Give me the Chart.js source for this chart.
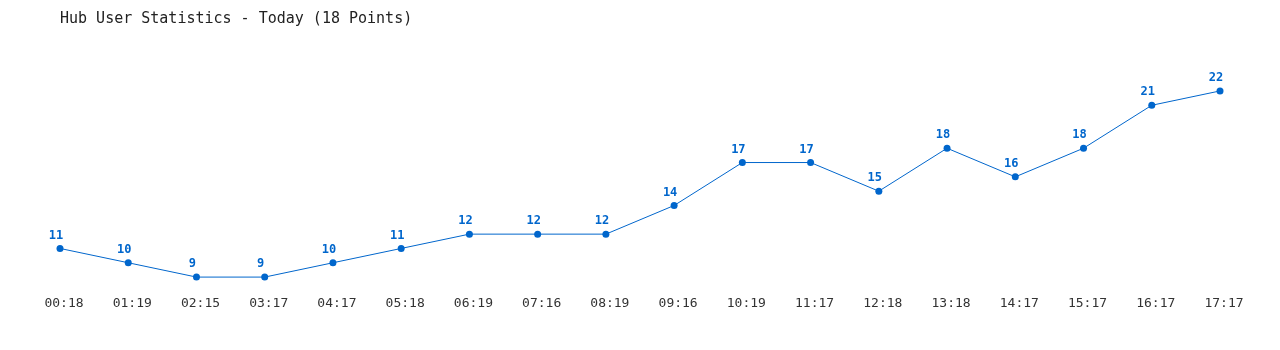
<!DOCTYPE html>
<html>
<head>
<meta charset="utf-8">
<script src="https://cdn.jsdelivr.net/npm/chart.js@4"></script>
<style>
html,body{margin:0;padding:0;background:#fff;}
#wrap{width:1280px;height:350px;position:relative;}
</style>
</head>
<body>
<div id="wrap"><canvas id="c" width="1280" height="350"></canvas></div>
<script>
const titleText = "Hub User Statistics - Today (18 Points)";
const times = ["00:18","01:19","02:15","03:17","04:17","05:18","06:19","07:16","08:19","09:16","10:19","11:17","12:18","13:18","14:17","15:17","16:17","17:17"];
const users = [11,10,9,9,10,11,12,12,12,14,17,17,15,18,16,18,21,22];
const yMin = 8;
const yMax = 25;

const pointLabels = {
  id: 'pointLabels',
  afterDatasetsDraw(chart) {
    const ctx = chart.ctx;
    const meta = chart.getDatasetMeta(0);
    const data = chart.data.datasets[0].data;
    ctx.save();
    ctx.font = 'bold 12px "DejaVu Sans Mono", monospace';
    ctx.fillStyle = '#0066cc';
    ctx.textAlign = 'center';
    ctx.textBaseline = 'middle';
    meta.data.forEach((pt, i) => {
      ctx.fillText(String(data[i]), pt.x - 4, pt.y - 13);
    });
    ctx.restore();
  }
};

new Chart(document.getElementById('c'), {
  type: 'line',
  data: {
    labels: times,
    datasets: [{
      data: users,
      borderColor: '#0066cc',
      backgroundColor: '#0066cc',
      borderWidth: 1,
      pointRadius: 3.5,
      pointBorderWidth: 0,
      pointBackgroundColor: '#0066cc',
      tension: 0,
      fill: false
    }]
  },
  options: {
    responsive: false,
    animation: false,
    devicePixelRatio: 1,
    layout: { padding: { left: 60, right: 60, top: 0, bottom: 35 } },
    plugins: {
      legend: { display: false },
      tooltip: { enabled: false },
      title: {
        display: true,
        text: titleText,
        align: 'start',
        color: '#222222',
        font: { family: '"DejaVu Sans Mono", monospace', size: 15, weight: 'normal', lineHeight: 1.2 },
        padding: { top: 10, bottom: 20 }
      }
    },
    scales: {
      x: {
        offset: false,
        grid: { display: false, drawTicks: false },
        border: { display: false },
        ticks: {
          color: '#333333',
          padding: 4,
          labelOffset: 4,
          maxRotation: 0,
          autoSkip: false,
          font: { family: '"DejaVu Sans Mono", monospace', size: 13 }
        }
      },
      y: {
        display: false,
        min: yMin,
        max: yMax
      }
    }
  },
  plugins: [pointLabels]
});
</script>
</body>
</html>
